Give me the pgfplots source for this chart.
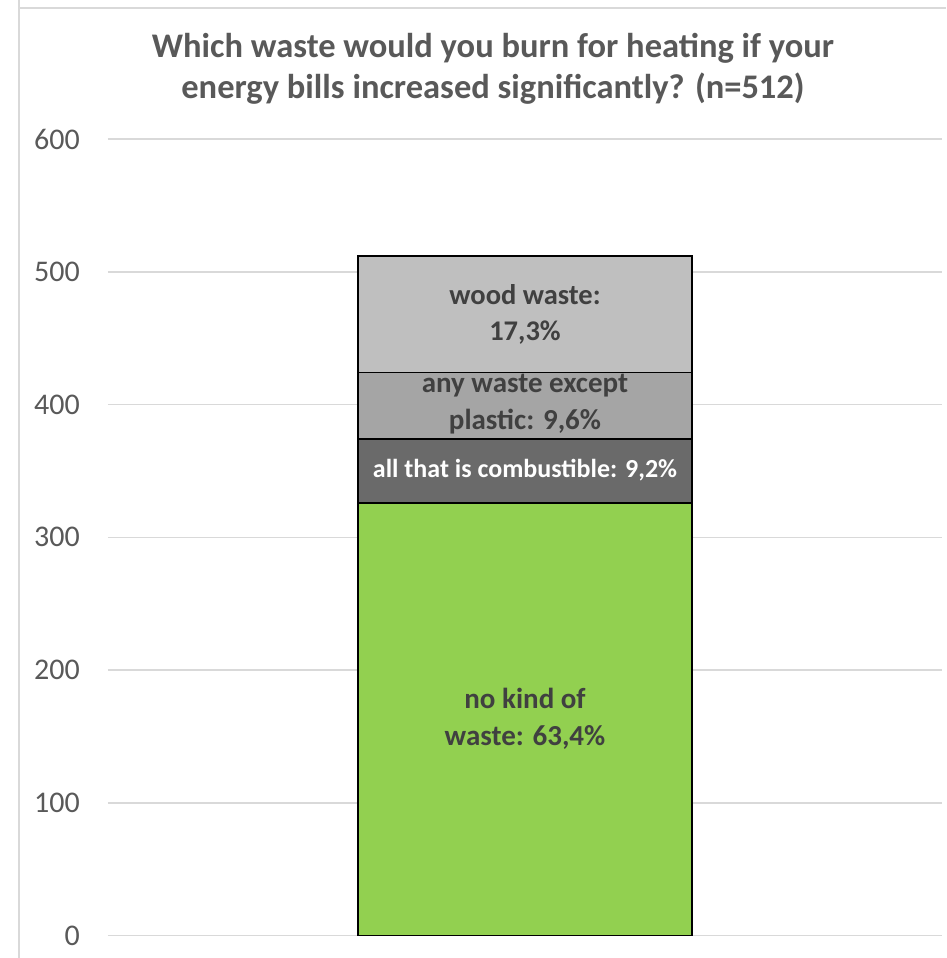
\documentclass[border=0pt]{standalone}
\usepackage{fontspec}
\setmainfont{Carlito}
\usepackage{pgfplots}
\pgfplotsset{compat=1.18}
\definecolor{titlegray}{HTML}{595959}
\definecolor{labelgray}{HTML}{404040}
\definecolor{gridgray}{HTML}{D9D9D9}
\definecolor{barGreen}{HTML}{92D050}
\definecolor{barDark}{HTML}{6A6A6A}
\definecolor{barMid}{HTML}{A5A5A5}
\definecolor{barLight}{HTML}{BFBFBF}
\begin{document}
\begin{tikzpicture}
\path[use as bounding box] (0pt,0pt) rectangle (946pt,958pt);
\draw[color=gridgray, line width=2pt] (19pt,0pt) -- (19pt,958pt);
\draw[color=gridgray, line width=2pt] (19pt,950pt) -- (946pt,950pt);
\begin{axis}[
  at={(108pt,22.3pt)}, anchor=south west,
  scale only axis, width=834pt, height=796.7pt,
  xmin=-1, xmax=1, ymin=0, ymax=600,
  ytick={0,100,200,300,400,500,600}, xtick=\empty,
  axis line style={draw=none}, major tick length=0pt,
  ymajorgrids, grid style={color=gridgray, line width=1.5pt},
  ybar stacked, bar width=334pt,
  clip=false,
  /pgf/number format/assume math mode=true,
  yticklabel style={font=\fontsize{30}{30}\selectfont, text=titlegray, anchor=east, inner sep=0pt, xshift=-28pt},
]
\addplot[fill=barGreen, draw=black, line width=1.5pt] coordinates {(0,326)};
\addplot[fill=barDark, draw=black, line width=1.5pt] coordinates {(0,48)};
\addplot[fill=barMid, draw=black, line width=1.5pt] coordinates {(0,50)};
\addplot[fill=barLight, draw=black, line width=1.5pt] coordinates {(0,88)};
\coordinate (lA) at (axis cs:0,163);
\coordinate (lB) at (axis cs:0,351);
\coordinate (lC) at (axis cs:0,400);
\coordinate (lD) at (axis cs:0,468);
\end{axis}
\node[align=center, text=labelgray, font=\bfseries\fontsize{29}{37}\selectfont] at (lA) {no kind of\\waste: 63,4\%};
\node[align=center, text=white, font=\bfseries\fontsize{26}{37}\selectfont] at (lB) {all that is combustible: 9,2\%};
\node[align=center, text=labelgray, font=\bfseries\fontsize{29}{37}\selectfont] at (lC) {any waste except\\plastic: 9,6\%};
\node[align=center, text=labelgray, font=\bfseries\fontsize{28.5}{36}\selectfont] at (lD) {wood waste:\\17,3\%};
\node[align=center, text=titlegray, font=\bfseries\fontsize{34.5}{41}\selectfont] at (493pt,889pt) {Which waste would you burn for heating if your\\energy bills increased significantly? (n=512)};
\end{tikzpicture}
\end{document}
